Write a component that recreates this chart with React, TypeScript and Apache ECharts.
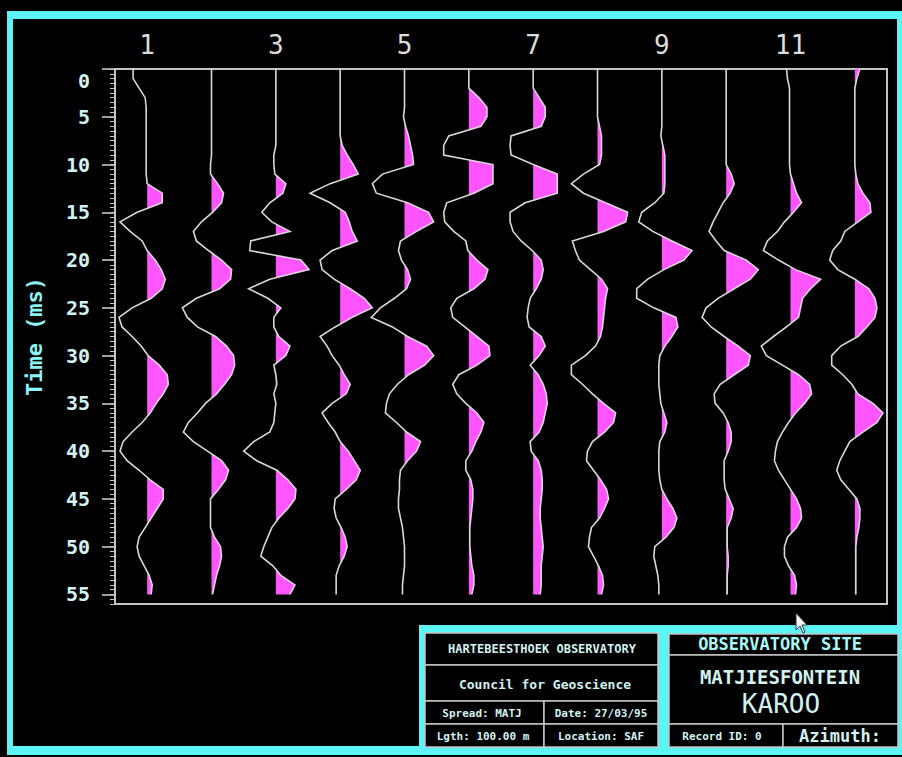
import { useEffect, useRef } from "react";
import * as echarts from "echarts";

// Sample times (ms) shared by every trace
const timeMs = [
  0, 1, 2, 3, 4, 5, 6, 7, 8, 9, 10, 11, 12, 13, 14, 15, 16, 17, 18, 19,
  20, 21, 22, 23, 24, 25, 26, 27, 28, 29, 30, 31, 32, 33, 34, 35, 36, 37, 38, 39,
  40, 41, 42, 43, 44, 45, 46, 47, 48, 49, 50, 51, 52, 53, 54, 55,
];

// Channel numbers and the ones printed along the top
const channels = [1, 2, 3, 4, 5, 6, 7, 8, 9, 10, 11, 12];
const channelLabels = [1, 3, 5, 7, 9, 11];

// Trace amplitudes (counts), one value per sample time
const trace01 = [-14, -14, -8, -2, -1, -1, -1, -1, -1, -1, -1, -1, 0, 15, 15, -10, -27, -17, -5, 0, 8, 14, 18, 15, 4, -15, -28, -25, -15, -6, 1, 12, 20, 21, 16, 9, 3, -5, -15, -24, -27, -20, -8, 3, 16, 16, 10, 4, -2, -8, -10, -8, -3, 2, 5, 4];
const trace02 = [0, 0, 0, 0, 0, 0, 0, 0, 0, 0, -1, -1, 6, 12, 10, 1, -10, -18, -15, -3, 10, 20, 19, 8, -15, -29, -24, -14, 4, 15, 22, 23, 20, 13, 5, -6, -14, -23, -28, -18, -4, 10, 17, 14, 7, -1, -1, -1, -1, 3, 9, 10, 8, 5, 3, 1];
const trace03 = [0, 0, 0, 0, 0, 0, 0, 0, 0, -2, -2, -1, 10, 7, -6, -14, -4, 14, -25, -26, 25, 33, -6, -27, -8, 5, -2, -2, 3, 14, 10, -2, 0, 1, -2, 0, -1, -2, -6, -22, -32, -19, 1, 12, 20, 19, 12, 3, -4, -8, -12, -15, -3, 5, 19, 14];
const trace04 = [0, 0, 0, 0, 0, 0, 0, 0, 2, 7, 13, 18, -10, -30, -10, 5, 9, 12, 17, -8, -20, -18, -6, 10, 24, 32, 12, -5, -20, -13, -8, -1, 4, 10, 6, -8, -18, -12, -5, 0, 8, 14, 20, 16, 6, -5, -6, -4, 1, 5, 7, 4, -1, -4, -4, -4];
const trace05 = [0, 0, 0, 0, 0, -1, 1, 4, 6, 8, 9, -22, -32, -28, 3, 24, 29, 12, -4, -6, -3, 3, 6, 2, -10, -24, -33, -12, 3, 22, 29, 20, 4, -7, -15, -18, -19, -8, 2, 16, 12, 3, -4, -5, -5, -6, -6, -4, -2, -1, 0, 0, 0, -1, -2, -2];
const trace06 = [0, 0, 0, 10, 18, 18, 12, -20, -25, -25, 24, 24, 24, 5, -22, -25, -24, -15, -3, -1, 8, 19, 16, 5, -12, -18, -16, -4, 8, 20, 21, 8, -10, -16, -12, -3, 8, 15, 12, 7, 3, -3, -3, 2, 4, 4, 3, 2, 1, 1, 1, 2, 3, 5, 5, 3];
const trace07 = [0, 0, 0, 6, 12, 12, 8, -22, -23, -22, 0, 24, 24, 24, -8, -23, -23, -20, -12, -1, 8, 10, 8, 3, -3, -5, -6, -4, 8, 12, 6, -3, 5, 10, 13, 14, 12, 10, 6, -3, -2, 5, 8, 9, 9, 8, 7, 7, 8, 9, 10, 9, 8, 8, 8, 7];
const trace08 = [0, 0, 0, 0, 0, 0, 2, 4, 4, 4, 2, -14, -26, -14, 8, 30, 28, 6, -25, -22, -18, -7, 4, 10, 8, 7, 6, 5, 3, -2, -12, -26, -26, -15, -5, 6, 18, 16, 7, -5, -10, -11, -4, 3, 9, 11, 7, 2, -6, -8, -9, -4, 1, 5, 6, 4];
const trace09 = [0, 0, 0, 0, 0, 0, 0, -1, 1, 3, 3, 3, 3, 2, -7, -20, -23, -9, 10, 30, 22, 2, -14, -25, -25, -8, 14, 16, 10, 3, -2, -3, -3, -3, -2, -1, 2, 5, 3, -2, -3, -3, -3, -2, 0, 5, 11, 15, 12, 4, -7, -8, -6, -4, -3, -3];
const trace10 = [0, 0, 0, 0, 0, 0, 0, 0, 0, 0, 0, 5, 8, 4, -3, -8, -13, -17, -10, -2, 20, 32, 24, 8, -8, -20, -24, -15, -2, 12, 24, 22, 8, -6, -12, -11, -3, 2, 5, 5, 2, -2, -2, -2, -1, 3, 7, 5, 1, 1, 1, 2, 2, 1, 1, 1];
const trace11 = [-4, -3, -1, -1, -1, -1, -1, -1, -1, -1, -1, 0, 3, 6, 11, 3, -6, -13, -23, -27, -12, 5, 30, 20, 12, 10, 8, -4, -17, -29, -24, -8, 8, 19, 21, 14, 5, -2, -8, -13, -15, -16, -12, -6, 0, 6, 10, 11, 6, -3, -6, -6, -2, 4, 6, 5];
const trace12 = [5, 2, 0, 0, 0, 0, 0, 0, 0, 0, 0, 1, 3, 8, 15, 16, 3, -10, -14, -22, -25, -17, 0, 14, 20, 22, 20, 12, 3, -14, -23, -23, -12, -3, 3, 18, 28, 22, 8, -5, -10, -15, -18, -14, -6, 2, 5, 5, 4, 2, 1, 1, 1, 1, 1, 1];

const traces = [trace01, trace02, trace03, trace04, trace05, trace06, trace07, trace08, trace09, trace10, trace11, trace12];

// Counts that make up one trace spacing on the channel axis
const COUNTS_PER_TRACE = 64;

const FILL = "#ff55ff";
const WIGGLE = "#d8d8d8";
const CYAN = "#5cf4f4";
const PALE = "#d2f2f2";
const GREY = "#c4c4c4";
const MONO = "'DejaVu Sans Mono', 'Liberation Mono', monospace";

// Wiggle trace with variable-area fill of the positive lobes
function renderTrace(params: any, api: any) {
  const amps = traces[params.dataIndex];
  const k = api.value(0);
  const pts = amps.map((a: number, i: number) => api.coord([k + a / COUNTS_PER_TRACE, timeMs[i]]));
  const zeroAt = (i: number) => {
    const p = amps[i - 1];
    const a = amps[i];
    const f = p / (p - a);
    return api.coord([k, timeMs[i - 1] + f * (timeMs[i] - timeMs[i - 1])]);
  };
  const children: any[] = [];
  let lobe: number[][] | null = null;
  for (let i = 0; i < amps.length; i++) {
    if (amps[i] > 0) {
      if (!lobe) lobe = [i === 0 ? api.coord([k, timeMs[0]]) : zeroAt(i)];
      lobe.push(pts[i]);
    } else if (lobe) {
      lobe.push(zeroAt(i));
      children.push({ type: "polygon", shape: { points: lobe }, style: { fill: FILL } });
      lobe = null;
    }
  }
  if (lobe) {
    lobe.push(api.coord([k, timeMs[timeMs.length - 1]]));
    children.push({ type: "polygon", shape: { points: lobe }, style: { fill: FILL } });
  }
  children.push({
    type: "polyline",
    shape: { points: pts },
    style: { stroke: WIGGLE, lineWidth: 1.6, fill: "none" },
  });
  return { type: "group", children };
}

function cell(x: number, y: number, w: number, h: number) {
  return {
    type: "rect",
    shape: { x, y, width: w, height: h },
    style: { fill: "#000", stroke: GREY, lineWidth: 1.5 },
  };
}

function label(text: string, x: number, y: number, size: number, color = PALE, weight = "bold") {
  return {
    type: "text",
    x,
    y,
    style: {
      text,
      fill: color,
      font: `${weight} ${size}px ${MONO}`,
      align: "center",
      verticalAlign: "middle",
    },
  };
}

const frame = [
  // cyan screen border
  { type: "rect", shape: { x: 7, y: 11, width: 895, height: 8 }, style: { fill: CYAN } },
  { type: "rect", shape: { x: 7, y: 746, width: 895, height: 9 }, style: { fill: CYAN } },
  { type: "rect", shape: { x: 7, y: 11, width: 6, height: 744 }, style: { fill: CYAN } },
  { type: "rect", shape: { x: 897, y: 11, width: 5, height: 744 }, style: { fill: CYAN } },
  // title block
  { type: "rect", shape: { x: 419, y: 625, width: 483, height: 127 }, style: { fill: CYAN } },
  cell(425, 633, 233, 32),
  cell(425, 665, 233, 36),
  cell(425, 701, 119, 23),
  cell(544, 701, 114, 23),
  cell(425, 724, 119, 23),
  cell(544, 724, 114, 23),
  cell(669, 634, 229, 21),
  cell(669, 655, 229, 69),
  cell(669, 724, 114, 23),
  cell(783, 724, 115, 23),
  label("HARTEBEESTHOEK OBSERVATORY", 542, 649, 12),
  label("Council for Geoscience", 545, 684, 13),
  label("Spread: MATJ", 482, 713, 11),
  label("Date: 27/03/95", 601, 713, 11),
  label("Lgth: 100.00 m", 483, 736, 11),
  label("Location: SAF", 601, 736, 11),
  label("OBSERVATORY SITE", 780, 644, 17, "#a6fafa"),
  label("MATJIESFONTEIN", 780, 677, 19),
  label("KAROO", 781, 704, 26, PALE, "normal"),
  label("Record ID: 0", 722, 736, 11),
  label("Azimuth:", 840, 736, 17),
  // pointer
  {
    type: "polygon",
    x: 796,
    y: 613,
    shape: { points: [[0, 0], [0, 17], [4, 13], [7, 20], [9, 19], [6, 12], [11, 12]] },
    style: { fill: "#f4f4f4", stroke: "#333", lineWidth: 1 },
    z: 100,
  },
];

const option: any = {
  animation: false,
  backgroundColor: "#000",
  grid: {
    left: 115,
    top: 69,
    right: 15,
    bottom: 153,
    show: true,
    borderColor: GREY,
    borderWidth: 2,
    backgroundColor: "transparent",
    outerBoundsMode: "none",
  },
  xAxis: {
    type: "value",
    position: "top",
    min: 0.5,
    max: 12.5,
    axisLine: { show: false },
    axisTick: { show: false },
    splitLine: { show: false },
    axisLabel: {
      customValues: channelLabels,
      margin: 11,
      color: "#dcdcdc",
      fontFamily: MONO,
      fontSize: 26,
    },
  },
  yAxis: [
    {
      type: "value",
      inverse: true,
      min: 0,
      max: 56,
      interval: 5,
      position: "left",
      name: "Time (ms)",
      nameLocation: "middle",
      nameGap: 70,
      nameTextStyle: { color: "#8ef4f4", fontFamily: MONO, fontSize: 22, fontWeight: "bold" },
      axisLine: { show: false },
      axisTick: { show: true, length: 13, lineStyle: { color: "#c8d6d6", width: 1.5 } },
      splitLine: { show: false },
      axisLabel: {
        margin: 25,
        color: PALE,
        fontFamily: MONO,
        fontSize: 20,
        fontWeight: "bold",
        showMaxLabel: false,
        formatter: (v: number) => (v % 5 !== 0 ? "" : v === 0 ? "{top|0}" : String(v)),
        rich: {
          top: {
            color: PALE,
            fontFamily: MONO,
            fontSize: 20,
            fontWeight: "bold",
            padding: [24, 0, 0, 0],
          },
        },
      },
    },
    {
      type: "value",
      inverse: true,
      min: 0,
      max: 56,
      interval: 0.5,
      position: "left",
      axisLine: { show: false },
      axisTick: { show: true, length: 5, lineStyle: { color: "#b8cccc", width: 1 } },
      axisLabel: { show: false },
      splitLine: { show: false },
    },
  ],
  graphic: frame,
  series: [
    {
      type: "custom",
      xAxisIndex: 0,
      yAxisIndex: 0,
      renderItem: renderTrace,
      data: channels.map((c) => [c, 0]),
      silent: true,
    },
  ],
};

export default function App() {
  const ref = useRef<HTMLDivElement>(null);
  useEffect(() => {
    const chart = echarts.init(ref.current!, null, { renderer: "svg" });
    chart.setOption(option);
    return () => chart.dispose();
  }, []);
  return (
    <div
      ref={ref}
      style={{ position: "fixed", left: 0, top: 0, width: 902, height: 757, background: "#000" }}
    />
  );
}
